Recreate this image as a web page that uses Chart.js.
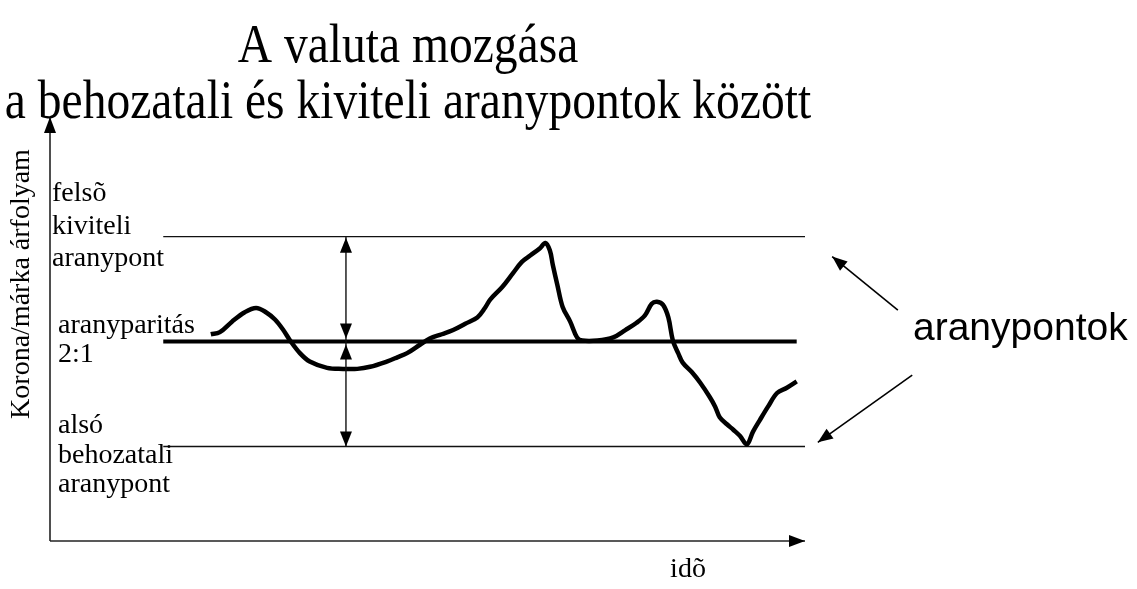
<!DOCTYPE html>
<html>
<head>
<meta charset="utf-8">
<script src="https://cdn.jsdelivr.net/npm/chart.js@4/dist/chart.umd.min.js"></script>
<style>
  html, body { margin: 0; padding: 0; background: #fff; }
  #wrap { position: relative; width: 1137px; height: 589px; }
</style>
</head>
<body>
<div id="wrap"><canvas id="chart"></canvas></div>
<script>
// time (arbitrary units, 0-100) and Korona/márka rate of the hand-drawn curve
const timePoints = [21.3, 22.5, 24.1, 25.8, 27.3, 28.6, 29.8, 30.9, 31.8, 33.1, 34.4, 36.7, 38.8, 40.7,
    42.4, 44.6, 46.0, 47.3, 49.0, 50.3, 51.9, 53.4, 55.0, 56.6, 57.6, 58.3, 59.9, 61.3, 62.5, 63.6,
    64.9, 65.6, 66.2, 66.6, 67.2, 67.9, 68.9, 69.8, 70.5, 72.5, 74.6, 76.2, 77.7, 78.8, 79.7, 80.4,
    81.2, 81.9, 82.5, 83.2, 83.8, 85.0, 86.1, 87.4, 88.1, 88.7, 89.7, 90.5, 91.4, 92.3, 93.1, 94.0,
    95.1, 96.3, 97.6, 98.9];
const rateValues = [2.007, 2.009, 2.019, 2.028, 2.032, 2.028, 2.021, 2.011, 2.001, 1.989, 1.981, 1.975, 1.974, 1.974,
    1.976, 1.981, 1.985, 1.989, 1.997, 2.003, 2.007, 2.011, 2.017, 2.023, 2.032, 2.040, 2.052, 2.065, 2.076, 2.082,
    2.089, 2.094, 2.087, 2.073, 2.054, 2.033, 2.019, 2.004, 2.001, 2.001, 2.004, 2.011, 2.018, 2.025, 2.036, 2.038,
    2.035, 2.023, 2.001, 1.989, 1.980, 1.971, 1.961, 1.947, 1.938, 1.928, 1.921, 1.916, 1.910, 1.902, 1.914, 1.925,
    1.938, 1.951, 1.956, 1.962];

// gold points and parity (rate), and where their lines start / end (time)
const upperGoldPoint = 2.1;
const parityRate = 2.0;
const lowerGoldPoint = 1.9;
const bandStart = 15;
const upperEnd = 100;
const parityEnd = 98.9;
const lowerEnd = 100;
const spanArrowTime = 39.2;

const titleLines = ['A valuta mozgása', 'a behozatali és kiviteli aranypontok között'];
const yAxisTitle = 'Korona/márka árfolyam';
const xAxisTitle = 'idõ';
const upperLabel = ['felsõ', 'kiviteli', 'aranypont'];
const parityLabel = ['aranyparitás', '2:1'];
const lowerLabel = ['alsó', 'behozatali', 'aranypont'];
const sideLabel = 'aranypontok';

const serif = '"Liberation Serif", "Times New Roman", serif';

function arrowHead(ctx, fromX, fromY, tipX, tipY, len, half) {
    const a = Math.atan2(tipY - fromY, tipX - fromX);
    ctx.beginPath();
    ctx.moveTo(tipX, tipY);
    ctx.lineTo(tipX - len * Math.cos(a) + half * Math.sin(a), tipY - len * Math.sin(a) - half * Math.cos(a));
    ctx.lineTo(tipX - len * Math.cos(a) - half * Math.sin(a), tipY - len * Math.sin(a) + half * Math.cos(a));
    ctx.closePath();
    ctx.fill();
}

function arrow(ctx, x1, y1, x2, y2, width, len, half) {
    ctx.lineWidth = width;
    ctx.beginPath();
    ctx.moveTo(x1, y1);
    ctx.lineTo(x2, y2);
    ctx.stroke();
    arrowHead(ctx, x1, y1, x2, y2, len, half);
}

const decorations = {
    id: 'decorations',
    afterDraw(chart) {
        const ctx = chart.ctx;
        const area = chart.chartArea;
        const xs = chart.scales.x;
        const ys = chart.scales.y;
        ctx.save();
        ctx.fillStyle = '#000';
        ctx.strokeStyle = '#222';

        // axes with arrows
        arrow(ctx, area.left, area.bottom, area.left, area.top, 1.6, 16, 6);
        arrow(ctx, area.left, area.bottom, area.right, area.bottom, 1.6, 16, 6);

        // span arrows between gold points and parity
        const sx = xs.getPixelForValue(spanArrowTime);
        const yU = ys.getPixelForValue(upperGoldPoint);
        const yP = ys.getPixelForValue(parityRate);
        const yL = ys.getPixelForValue(lowerGoldPoint);
        ctx.strokeStyle = '#111';
        ctx.lineWidth = 1.4;
        ctx.beginPath();
        ctx.moveTo(sx, yU);
        ctx.lineTo(sx, yL);
        ctx.stroke();
        arrowHead(ctx, sx, yP, sx, yU + 1, 15, 6);
        arrowHead(ctx, sx, yU, sx, yP - 3, 15, 6);
        arrowHead(ctx, sx, yL, sx, yP + 3, 15, 6);
        arrowHead(ctx, sx, yP, sx, yL, 15, 6);

        // pointers from the side label to the gold point lines
        ctx.strokeStyle = '#000';
        arrow(ctx, xs.getPixelForValue(112.3), ys.getPixelForValue(2.030),
            xs.getPixelForValue(103.6), ys.getPixelForValue(2.081), 1.6, 15, 6);
        arrow(ctx, xs.getPixelForValue(114.2), ys.getPixelForValue(1.968),
            xs.getPixelForValue(101.7), ys.getPixelForValue(1.904), 1.6, 15, 6);

        // title, condensed serif
        ctx.textAlign = 'center';
        ctx.textBaseline = 'alphabetic';
        ctx.font = '54px ' + serif;
        [62, 118].forEach((base, i) => {
            ctx.save();
            ctx.translate(408, base);
            ctx.scale(0.88, 1);
            ctx.fillText(titleLines[i], 0, 0);
            ctx.restore();
        });

        // labels at the left
        ctx.textAlign = 'left';
        ctx.font = '28px ' + serif;
        upperLabel.forEach((t, i) => ctx.fillText(t, 52, 201 + i * 32.5));
        parityLabel.forEach((t, i) => ctx.fillText(t, 58, 333 + i * 29));
        lowerLabel.forEach((t, i) => ctx.fillText(t, 58, 433 + i * 29.5));

        // axis titles
        ctx.textAlign = 'center';
        ctx.fillText(xAxisTitle, 688, 577);
        ctx.save();
        ctx.translate(29, 284);
        ctx.rotate(-Math.PI / 2);
        ctx.fillText(yAxisTitle, 0, 0);
        ctx.restore();

        // side label
        ctx.textAlign = 'left';
        ctx.font = '39px "Liberation Sans", Arial, sans-serif';
        ctx.fillText(sideLabel, 913, 340);
        ctx.restore();
    }
};

const ctx = document.getElementById('chart').getContext('2d');
const chart = new Chart(ctx, {
    type: 'line',
    data: {
        datasets: [
            {
                data: timePoints.map((t, i) => ({ x: t, y: rateValues[i] })),
                borderColor: '#000',
                borderWidth: 4.5,
                tension: 0.35,
                pointRadius: 0,
                order: 0
            },
            {
                data: [{ x: bandStart, y: upperGoldPoint }, { x: upperEnd, y: upperGoldPoint }],
                borderColor: '#111',
                borderWidth: 1.4,
                pointRadius: 0,
                order: 1
            },
            {
                data: [{ x: bandStart, y: parityRate }, { x: parityEnd, y: parityRate }],
                borderColor: '#000',
                borderWidth: 4,
                pointRadius: 0,
                order: 1
            },
            {
                data: [{ x: bandStart, y: lowerGoldPoint }, { x: lowerEnd, y: lowerGoldPoint }],
                borderColor: '#111',
                borderWidth: 1.4,
                pointRadius: 0,
                order: 1
            }
        ]
    },
    options: {
        responsive: true,
        maintainAspectRatio: false,
        animation: false,
        events: [],
        layout: { padding: { left: 50, top: 117, right: 332, bottom: 48 } },
        scales: {
            x: { type: 'linear', min: 0, max: 100, display: false },
            y: { type: 'linear', min: 1.81, max: 2.214, display: false }
        },
        plugins: {
            legend: { display: false },
            tooltip: { enabled: false }
        }
    },
    plugins: [decorations]
});
</script>
</body>
</html>
